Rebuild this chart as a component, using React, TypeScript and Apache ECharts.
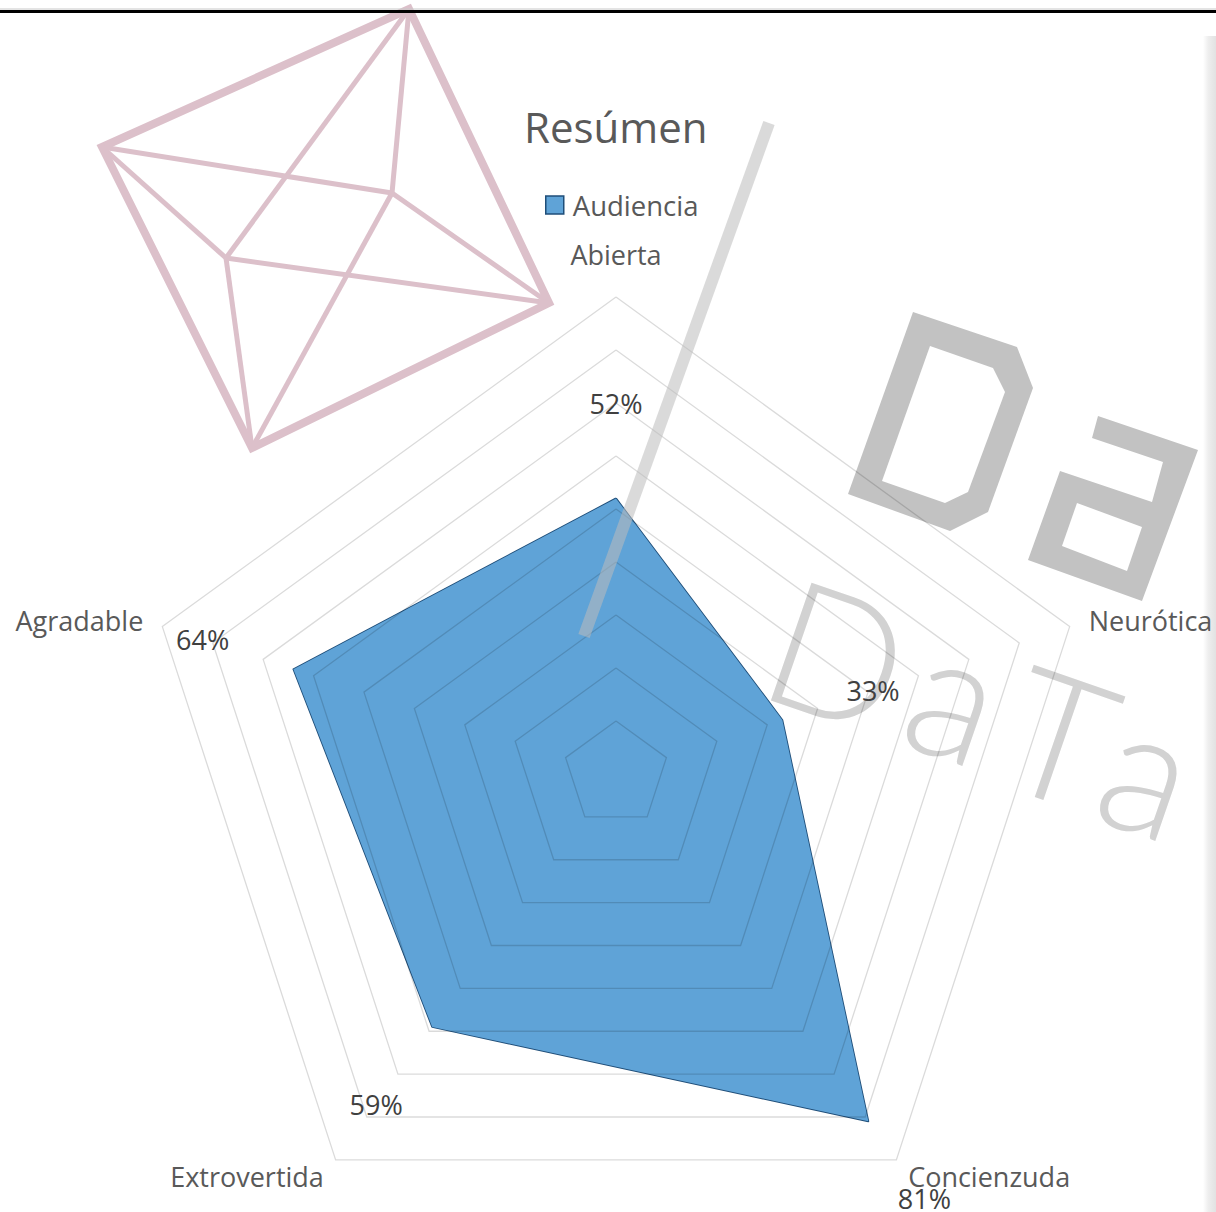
import React, { useEffect, useRef } from 'react';
import * as echarts from 'echarts';

// ---- data ----
const titleText = 'Resúmen';
const seriesName = 'Audiencia';
// counter-clockwise from the top (ECharts radar order)
const indicatorNames = ['Abierta', 'Agradable', 'Extrovertida', 'Concienzuda', 'Neurótica'];
const audienciaValues = [0.52, 0.64, 0.59, 0.81, 0.33];
const axisMax = 0.9;
const splitCount = 9;
// data labels sit a fixed distance outside each vertex
const labelOffset = 0.18;

const FONT = "'Open Sans', 'Noto Sans', sans-serif";

const deg = Math.PI / 180;

function buildGraphics() {
  const pink = '#dcc0ca';
  const T = [409, 9];
  const L = [102, 147];
  const B = [252, 448];
  const R = [549, 303];
  const A = [392, 193];
  const Bi = [226, 258];
  const inner: any[] = [];
  [T, L, B, R].forEach((p) => {
    [A, Bi].forEach((q) => {
      inner.push({
        type: 'line',
        z: -10,
        silent: true,
        shape: { x1: p[0], y1: p[1], x2: q[0], y2: q[1] },
        style: { stroke: pink, lineWidth: 5 },
      });
    });
  });
  const blockGray = '#c2c2c2';
  const thinLetters = [
    { ch: 'D', x: 839, y: 652 },
    { ch: 'a', x: 957, y: 692 },
    { ch: 'T', x: 1061, y: 734 },
    { ch: 'a', x: 1150, y: 767 },
  ].map((l) => ({
    type: 'text',
    z: -8,
    silent: true,
    x: l.x,
    y: l.y,
    rotation: -19 * deg,
    style: {
      text: l.ch,
      fontFamily: "Lato, 'Open Sans', sans-serif",
      fontWeight: 300,
      fontSize: 176,
      fill: '#d2d2d2',
      textAlign: 'center',
      textVerticalAlign: 'middle',
    },
  }));
  return [
    // top black rule
    { type: 'line', z: 50, silent: true, shape: { x1: 0, y1: 9, x2: 1216, y2: 9 }, style: { stroke: '#c8c8c8', lineWidth: 1 } },
    { type: 'line', z: 50, silent: true, shape: { x1: 0, y1: 11.5, x2: 1216, y2: 11.5 }, style: { stroke: '#000', lineWidth: 3 } },
    // right page shadow
    {
      type: 'rect',
      z: -5,
      silent: true,
      shape: { x: 1203, y: 36, width: 13, height: 1176 },
      style: {
        fill: new echarts.graphic.LinearGradient(0, 0, 1, 0, [
          { offset: 0, color: 'rgba(255,255,255,1)' },
          { offset: 0.4, color: '#eeeeee' },
          { offset: 1, color: '#e2e2e2' },
        ]),
      },
    },
    // pink octahedron
    {
      type: 'polygon',
      z: -10,
      silent: true,
      shape: { points: [T, R, B, L] },
      style: { fill: 'none', stroke: pink, lineWidth: 8, lineJoin: 'miter' },
    },
    ...inner,
    // block "D"
    {
      type: 'polygon', z: -10, silent: true,
      shape: { points: [[913, 312], [1017, 347], [1033, 388], [988, 512], [950, 531], [848, 494]] },
      style: { fill: blockGray },
    },
    {
      type: 'polygon', z: -9, silent: true,
      shape: { points: [[930, 346], [993, 368], [1005, 392], [968, 492], [945, 503], [882, 481]] },
      style: { fill: '#ffffff' },
    },
    // block "a"
    {
      type: 'polygon', z: -10, silent: true,
      shape: { points: [[1098, 416], [1198, 450], [1142, 601], [1028, 560], [1060, 471], [1152, 502], [1163, 462], [1092, 438]] },
      style: { fill: blockGray },
    },
    {
      type: 'polygon', z: -9, silent: true,
      shape: { points: [[1077, 503], [1142, 527], [1127, 571], [1062, 546]] },
      style: { fill: '#ffffff' },
    },
    // thin "DaTa"
    ...thinLetters,
    // slanted grey bar over the chart
    {
      type: 'line', z: 100, silent: true,
      shape: { x1: 769, y1: 123, x2: 584, y2: 636 },
      style: { stroke: 'rgba(187,187,187,0.55)', lineWidth: 12 },
    },
  ];
}

export default function App() {
  const ref = useRef<HTMLDivElement>(null);
  useEffect(() => {
    if (!ref.current) return;
    const chart = echarts.init(ref.current, null, { renderer: 'svg' });
    chart.setOption({
      animation: false,
      backgroundColor: '#ffffff',
      title: {
        text: titleText,
        left: 519,
        top: 100,
        textStyle: { fontFamily: FONT, fontSize: 42, fontWeight: 'normal', color: '#595959' },
      },
      legend: {
        data: [seriesName],
        top: 186,
        left: 540,
        icon: 'rect',
        itemWidth: 18,
        itemHeight: 18,
        itemGap: 10,
        itemStyle: { color: '#5FA3D7', borderColor: '#1F4E79', borderWidth: 1.5 },
        textStyle: { fontFamily: FONT, fontSize: 27.5, color: '#595959', padding: [0, 0, 0, 4] },
      },
      radar: {
        z: 5,
        center: [616, 774],
        radius: 477,
        startAngle: 90,
        shape: 'polygon',
        splitNumber: splitCount,
        indicator: indicatorNames.map((n) => ({ name: n, min: 0, max: axisMax })),
        nameGap: 20,
        axisName: {
          fontFamily: FONT,
          fontSize: 27,
          color: '#595959',
          formatter: (name: string) => (name === indicatorNames[0] ? `{up|${name}}` : name),
          rich: {
            up: { fontFamily: FONT, fontSize: 27, color: '#595959', padding: [0, 0, 9, 0] },
          },
        },
        axisLine: { show: false },
        axisTick: { show: false },
        axisLabel: { show: false },
        splitArea: { show: false },
        splitLine: { lineStyle: { color: 'rgba(0,0,0,0.145)', width: 1.3 } },
      },
      graphic: buildGraphics(),
      series: [
        {
          type: 'radar',
          z: 2,
          symbol: 'none',
          silent: true,
          data: [
            {
              name: seriesName,
              value: audienciaValues,
              itemStyle: { color: '#5FA3D7' },
              lineStyle: { color: '#1F4E79', width: 1.8 },
              areaStyle: { color: '#5FA3D7', opacity: 1 },
            },
          ],
        },
        {
          type: 'radar',
          z: 8,
          silent: true,
          symbol: 'circle',
          symbolSize: 1,
          data: [
            {
              name: 'etiquetas',
              value: audienciaValues.map((v) => v + labelOffset),
              itemStyle: { color: 'rgba(0,0,0,0)' },
              lineStyle: { width: 0, opacity: 0 },
              label: {
                show: true,
                position: 'inside',
                fontFamily: FONT,
                fontSize: 27,
                color: '#404040',
                formatter: (p: any) => {
                  const v = Array.isArray(p.value) ? p.value[0] : p.value;
                  return `${Math.round((v - labelOffset) * 100)}%`;
                },
              },
            },
          ],
        },
      ],
    });
    return () => chart.dispose();
  }, []);
  return (
    <div
      ref={ref}
      style={{ position: 'absolute', left: 0, top: 0, width: 1216, height: 1212 }}
    />
  );
}
